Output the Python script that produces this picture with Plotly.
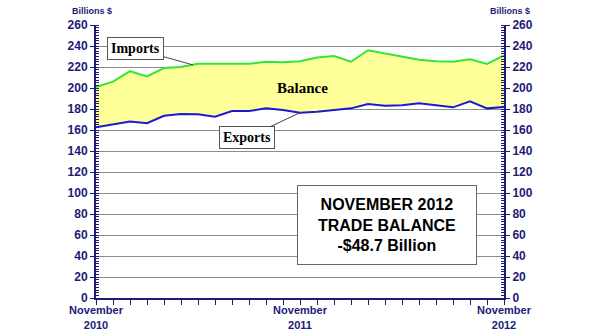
import plotly.graph_objects as go

months = list(range(25))  # Nov 2010 .. Nov 2012
imports = [201, 206, 216, 211, 219, 220, 223, 223, 223.5, 223, 225, 224.5, 225.5,
           229, 230.5, 225, 236, 233, 230.5, 227, 225.5, 225, 227.3, 223, 231]
exports = [162.6, 165.4, 168, 166.4, 173.6, 175.2, 175, 172.7, 178, 178, 180.6, 179, 176.5,
           177.5, 179, 180.6, 184.8, 183, 183.5, 185.4, 183.5, 181.6, 187.3, 180.6, 182]
tick_pos = [0, 12, 24]
tick_text = ["November<br>2010", "November<br>2011", "November<br>2012"]

navy = "#1c1c78"
L, R, T, B = 96, 91, 25, 37
W, H = 595, 335

fig = go.Figure()
fig.add_trace(go.Scatter(x=months, y=exports, mode="lines",
                         line=dict(color="#1a1ad0", width=2), showlegend=False))
fig.add_trace(go.Scatter(x=months, y=imports, mode="lines", fill="tonexty",
                         fillcolor="#ffff99",
                         line=dict(color="#33e633", width=2), showlegend=False))
fig.add_trace(go.Scatter(x=[0], y=[0], yaxis="y2", mode="markers",
                         marker=dict(opacity=0), showlegend=False, hoverinfo="skip"))

tickfont = dict(family="Liberation Sans, Arial", size=12, color=navy, weight="bold")
yax = dict(range=[0, 260], dtick=20, showgrid=True, gridcolor="#8c8c8c", gridwidth=1,
           showline=True, linecolor=navy, linewidth=2, ticks="outside", ticklen=4,
           tickcolor=navy, tickfont=tickfont, zeroline=False, automargin=False,
           minor=dict(dtick=2.5, ticks="inside", ticklen=3, tickcolor=navy, showgrid=False))
fig.update_layout(
    width=W, height=H, paper_bgcolor="white", plot_bgcolor="white",
    margin=dict(l=L, r=R, t=T, b=B),
    xaxis=dict(range=[0, 24], tickvals=tick_pos, ticktext=tick_text, showgrid=False,
               showline=True, linecolor=navy, linewidth=2, ticks="outside", ticklen=5,
               tickcolor=navy, zeroline=False, automargin=False, ticklabelstandoff=-4,
               tickfont=dict(family="Liberation Sans, Arial", size=11, color=navy, weight="bold"),
               minor=dict(dtick=1, ticks="outside", ticklen=5, tickcolor=navy)),
    yaxis=yax,
    yaxis2=dict(yax, overlaying="y", side="right", showgrid=False),
    font=dict(family="Liberation Sans, Arial"),
)

def px2paper(px, py):
    return (px - L) / (W - L - R), (H - B - py) / (H - B - T)

for pxx, pyy in [(92, 11), (510, 11)]:
    xp, yp = px2paper(pxx, pyy)
    fig.add_annotation(text="<b>Billions $</b>", x=xp, y=yp, xref="paper", yref="paper",
                       showarrow=False, xanchor="center", yanchor="middle",
                       font=dict(family="Liberation Sans", size=9, color=navy))

serif = dict(family="Liberation Serif, Times New Roman", size=14, color="black")
fig.add_annotation(text="<b>Imports</b>", x=5.7, y=222, ax=-57, ay=-16, showarrow=True,
                   arrowhead=0, arrowwidth=1, arrowcolor="#444", font=serif,
                   bgcolor="white", bordercolor="#555", borderwidth=1, borderpad=3)
fig.add_annotation(text="<b>Exports</b>", x=12.0, y=176.5, ax=-53, ay=25, showarrow=True,
                   arrowhead=0, arrowwidth=1, arrowcolor="#444", font=serif,
                   bgcolor="white", bordercolor="#555", borderwidth=1, borderpad=3)
fig.add_annotation(text="<b>Balance</b>", x=(302 - 96) / 17, y=(298 - 88) / 1.05,
                   showarrow=False, font=dict(family="Liberation Serif", size=15, color="black"))
xp, yp = px2paper(387, 225)
fig.add_annotation(text="<b>NOVEMBER 2012<br>TRADE BALANCE<br>-$48.7 Billion</b>",
                   x=xp, y=yp, xref="paper", yref="paper", showarrow=False,
                   xanchor="center", yanchor="middle",
                   width=176, height=76, bgcolor="white", bordercolor="#666", borderwidth=1,
                   font=dict(family="Liberation Sans", size=16, color="black"))

fig.write_html("out.html")
